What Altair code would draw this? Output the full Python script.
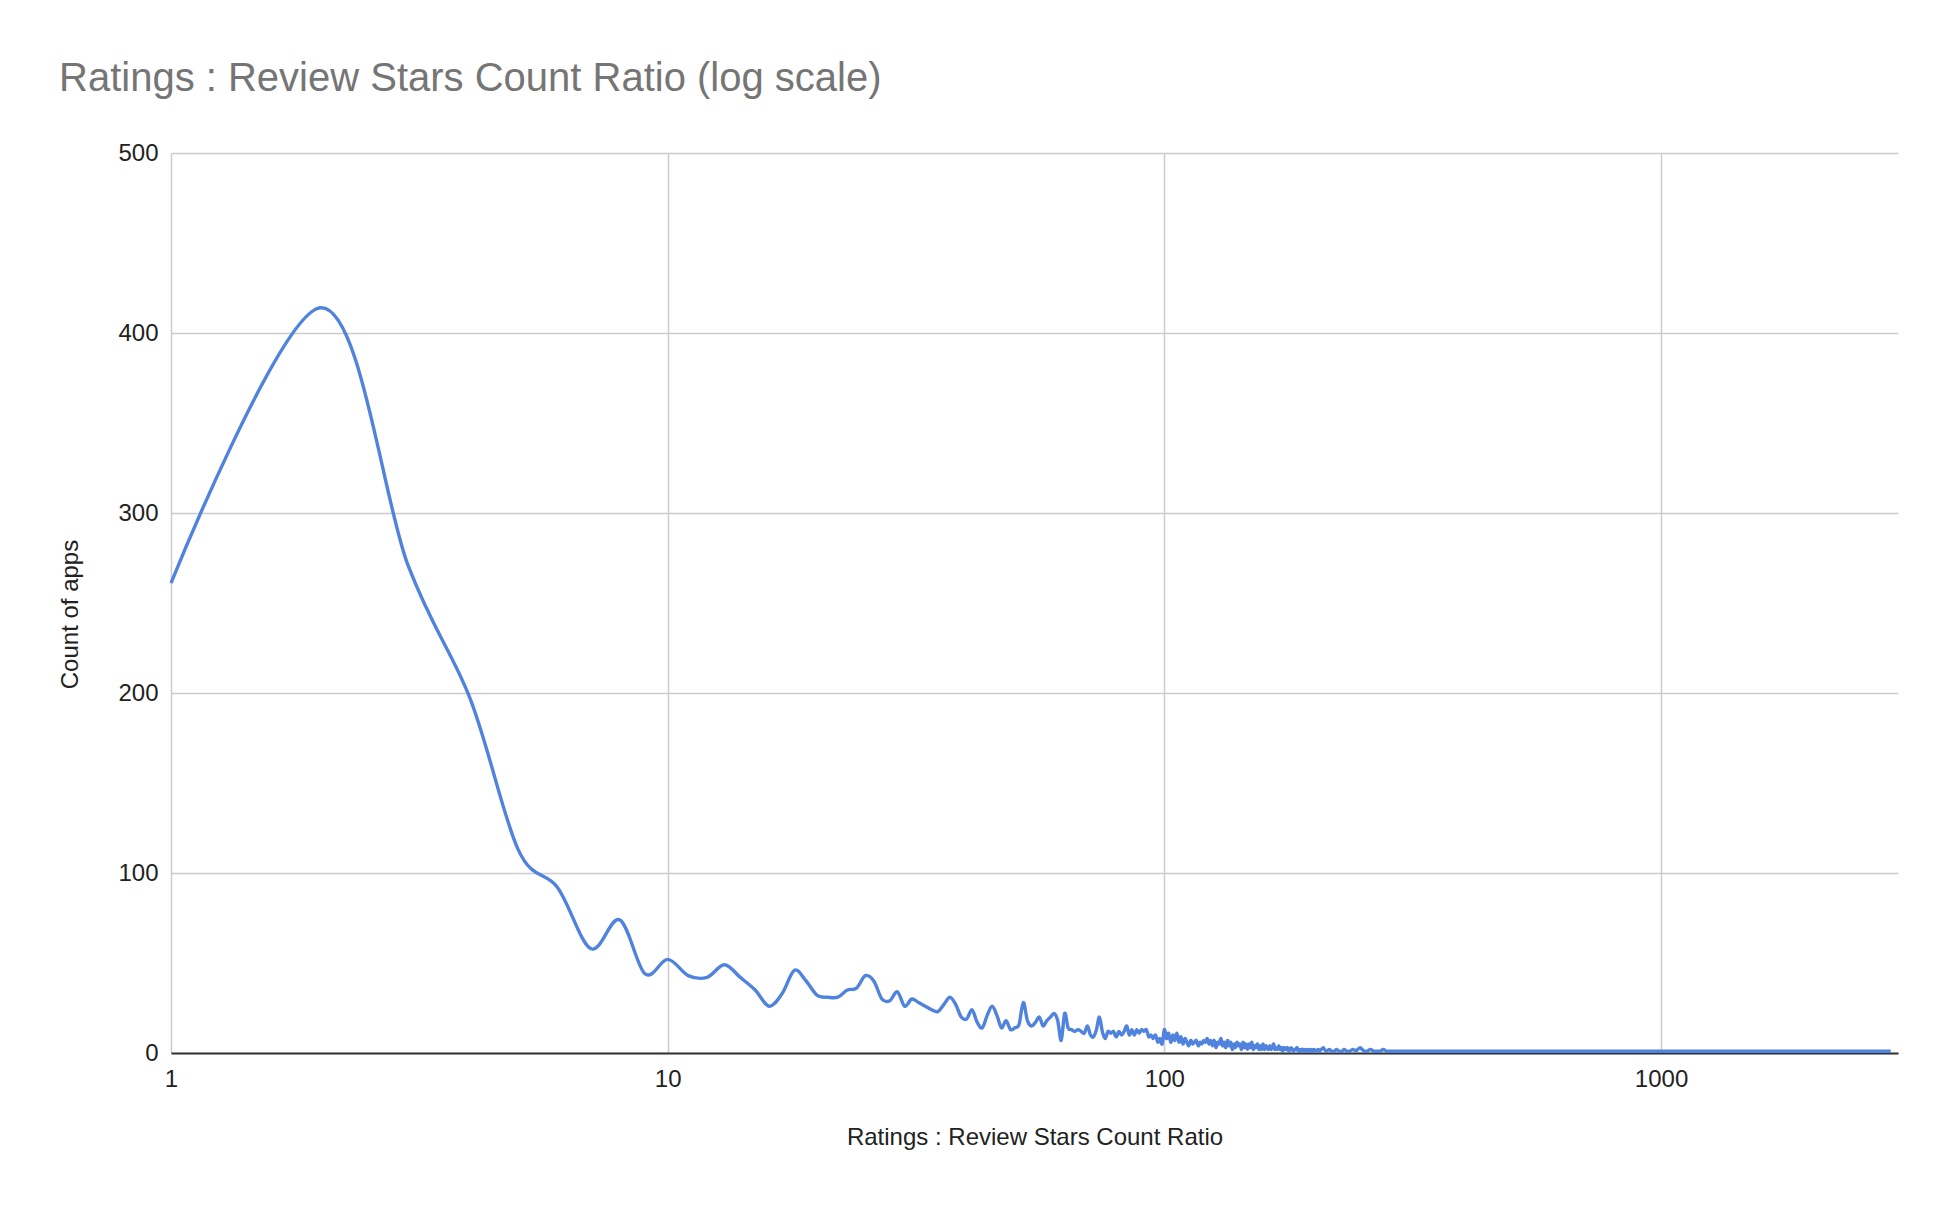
import altair as alt
import pandas as pd

# Ratings : Review Stars count ratio (x) and number of apps with that ratio (y)
ratio_a = list(range(1, 201))
count_a = [
    261, 414, 271, 197, 113, 92, 58, 74, 44, 52,
    43, 42, 49, 42, 35, 26, 33, 46, 40, 32,
    31, 31, 35, 36, 43, 40, 30, 29, 34, 26,
    30, 28, 26, 24, 23, 27, 31, 27, 20, 19,
    24, 17, 14, 21, 26, 21, 14, 18, 13, 14,
    16, 28, 18, 15, 17, 20, 15, 18, 20, 22,
    18, 7, 22, 14, 13, 12, 13, 12, 11, 15,
    10, 9, 13, 20, 12, 8, 12, 11, 12, 9,
    12, 10, 12, 15, 10, 13, 10, 13, 11, 13,
    12, 13, 9, 10, 8, 10, 6, 8, 5, 13,
    8, 11, 6, 10, 7, 11, 6, 9, 5, 8,
    6, 4, 7, 5, 6, 7, 4, 6, 5, 7,
    6, 8, 5, 7, 4, 7, 3, 6, 5, 8,
    4, 6, 3, 7, 4, 6, 2, 5, 3, 6,
    4, 5, 2, 6, 3, 5, 2, 5, 3, 6,
    2, 4, 3, 5, 2, 4, 2, 5, 2, 4,
    3, 2, 4, 2, 3, 5, 2, 3, 2, 4,
    2, 3, 1, 3, 2, 2, 3, 1, 2, 3,
    2, 1, 2, 2, 3, 1, 2, 1, 2, 2,
    1, 2, 1, 2, 1, 2, 1, 2, 1, 2,
]
ratio_b = [202, 204, 205, 207, 209, 210, 212, 215, 217, 220, 222, 225, 228,
           230, 233, 236, 240, 243, 245, 248, 250, 253, 256, 260, 264, 268,
           272, 276, 280, 285, 290, 296, 300]
count_b = [1, 2, 1, 2, 3, 2, 1, 2, 1, 1, 2, 1, 1,
           2, 1, 1, 2, 1, 2, 3, 2, 1, 1, 2, 1, 1,
           1, 2, 1, 1, 1, 1, 1]
ratio_c = [310, 320, 333, 350, 365, 380, 400, 420, 450, 480, 500, 550, 600,
           650, 700, 800, 900, 1000, 1200, 1500, 1800, 2200, 2900]
count_c = [1] * len(ratio_c)

df = pd.DataFrame({
    "ratio": ratio_a + ratio_b + ratio_c,
    "count": count_a + count_b + count_c,
})

x_ticks = [1, 10, 100, 1000]
y_ticks = [0, 100, 200, 300, 400, 500]

FONT = "Liberation Sans"

chart = alt.Chart(df).mark_line(
    color="#5083DD", strokeWidth=3.4, interpolate="cardinal"
).encode(
    x=alt.X(
        "ratio:Q",
        scale=alt.Scale(type="log", domain=[1, 3000], nice=False),
        axis=alt.Axis(
            values=x_ticks, format="d", title="Ratings : Review Stars Count Ratio",
            grid=True, gridColor="#cccccc", gridWidth=1.5,
            domain=True, domainColor="#333333", domainWidth=2,
            ticks=False, labelPadding=14, labelFlush=False,
            titleY=84, titleBaseline="middle",
        ),
    ),
    y=alt.Y(
        "count:Q",
        scale=alt.Scale(domain=[0, 500], nice=False),
        axis=alt.Axis(
            values=y_ticks, title="Count of apps",
            grid=True, gridColor="#cccccc", gridWidth=1.5,
            domain=False, ticks=False, labelPadding=13,
            titleX=-101, titleY=461, titleBaseline="middle", titleAngle=-90,
        ),
    ),
).properties(
    width=1727,
    height=900,
    title=alt.TitleParams(
        "Ratings : Review Stars Count Ratio (log scale)",
        anchor="start", frame="group", font=FONT, fontSize=40,
        fontWeight="normal", color="#757575", dx=-112,
        baseline="alphabetic", offset=10,
    ),
    autosize=alt.AutoSizeParams(type="none"),
    padding={"left": 171, "top": 153, "right": 60, "bottom": 153},
    background="white",
).configure_view(
    stroke=None
).configure_axis(
    labelFont=FONT, labelFontSize=24, labelColor="#222222",
    titleFont=FONT, titleFontSize=24, titleColor="#222222",
    titleFontWeight="normal",
)

chart.save("out.html", embed_options={"renderer": "svg", "actions": False})
